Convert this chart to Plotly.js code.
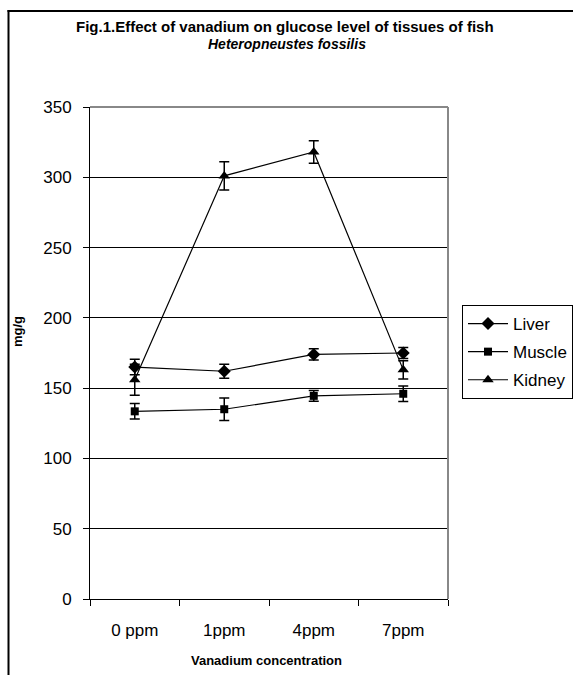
<!DOCTYPE html>
<html>
<head>
<meta charset="utf-8">
<script src="https://cdn.plot.ly/plotly-3.0.1.min.js"></script>
<style>
html,body{margin:0;padding:0;background:#fff;}
#chart{width:573px;height:675px;}
</style>
</head>
<body>
<div id="chart"></div>
<script>
var categories = ['0 ppm', '1ppm', '4ppm', '7ppm'];
var liverValues = [165, 162, 174, 175];
var liverErrors = [5.5, 5, 4, 4];
var muscleValues = [133.5, 135, 144.5, 146];
var muscleErrors = [5.5, 8, 3.8, 5.5];
var kidneyValues = [156, 301, 318, 163];
var kidneyErrors = [11, 10, 8, 6.5];
var yTickValues = [0, 50, 100, 150, 200, 250, 300, 350];
var titleLine1 = 'Fig.1.Effect of vanadium on glucose level of tissues of fish';
var titleLine2 = 'Heteropneustes fossilis';

var FONT = 'Liberation Sans, Arial, sans-serif';

function series(name, y, err, symbol, size) {
  return {
    type: 'scatter', mode: 'lines+markers', name: name, legendgroup: name,
    x: categories, y: y,
    line: {color: '#000', width: 1.2},
    marker: {symbol: symbol, size: size, color: '#000'},
    error_y: {type: 'data', array: err, visible: true, color: '#000', thickness: 1.5, width: 5}
  };
}

var data = [
  series('Liver', liverValues, liverErrors, 'diamond', 10),
  series('Muscle', muscleValues, muscleErrors, 'square', 8),
  series('Kidney', kidneyValues, kidneyErrors, 'triangle-up', 10)
];

// pixel helpers for paper coords (plot area 90..448 x, 107..599 y)
function px(x) { return (x - 90) / 358; }
function py(y) { return (599 - y) / 492; }

var layout = {
  width: 573, height: 675,
  margin: {l: 90, r: 125, t: 107, b: 76, autoexpand: false},
  paper_bgcolor: '#fff', plot_bgcolor: '#fff',
  font: {family: FONT, color: '#000', size: 17},
  showlegend: true,
  xaxis: {
    type: 'category', range: [-0.5, 3.5],
    tickson: 'boundaries', ticks: 'outside', ticklen: 6, tickcolor: '#000', tickwidth: 1,
    showline: true, linecolor: '#000', linewidth: 1,
    showgrid: false, zeroline: false, fixedrange: true,
    tickfont: {family: FONT, size: 17, color: '#000'},
    ticklabelstandoff: 16
  },
  yaxis: {
    range: [0, 350], tickvals: yTickValues,
    ticks: 'outside', ticklen: 6, tickcolor: '#000', tickwidth: 1,
    showline: true, linecolor: '#000', linewidth: 1,
    showgrid: true, gridcolor: '#000', gridwidth: 1,
    zeroline: false, fixedrange: true,
    tickfont: {family: FONT, size: 17, color: '#000'},
    ticklabelstandoff: 8
  },
  legend: {
    x: px(462), y: py(305), xanchor: 'left', yanchor: 'top',
    xref: 'paper', yref: 'paper',
    bordercolor: '#000', borderwidth: 1, bgcolor: '#fff',
    font: {family: FONT, size: 17, color: '#000'},
    traceorder: 'grouped', tracegroupgap: 3, itemwidth: 40
  },
  annotations: [
    {text: '<b>' + titleLine1 + '</b>', xref: 'paper', yref: 'paper', x: px(285), y: py(26),
     xanchor: 'center', yanchor: 'middle', showarrow: false,
     font: {family: FONT, size: 15, color: '#000'}},
    {text: '<b><i>' + titleLine2 + '</i></b>', xref: 'paper', yref: 'paper', x: px(287), y: py(44),
     xanchor: 'center', yanchor: 'middle', showarrow: false,
     font: {family: FONT, size: 14, color: '#000'}},
    {text: '<b>mg/g</b>', xref: 'paper', yref: 'paper', x: px(17), y: py(332),
     xanchor: 'center', yanchor: 'middle', textangle: -90, showarrow: false,
     font: {family: FONT, size: 13, color: '#000'}},
    {text: '<b>Vanadium concentration</b>', xref: 'paper', yref: 'paper', x: px(266), y: py(660),
     xanchor: 'center', yanchor: 'middle', showarrow: false,
     font: {family: FONT, size: 13, color: '#000'}}
  ],
  shapes: [
    {type: 'line', xref: 'paper', yref: 'paper', x0: 0, x1: 1, y0: 1, y1: 1, line: {color: '#888', width: 2}, layer: 'above'},
    {type: 'line', xref: 'paper', yref: 'paper', x0: 1, x1: 1, y0: 0, y1: 1, line: {color: '#888', width: 2}, layer: 'above'},
    {type: 'line', xref: 'paper', yref: 'paper', x0: px(8.5), x1: px(8.5), y0: py(10), y1: py(690), line: {color: '#000', width: 2}},
    {type: 'line', xref: 'paper', yref: 'paper', x0: px(7.5), x1: px(590), y0: py(11), y1: py(11), line: {color: '#000', width: 2}}
  ]
};

Plotly.newPlot('chart', data, layout, {displayModeBar: false, staticPlot: true});
</script>
</body>
</html>
